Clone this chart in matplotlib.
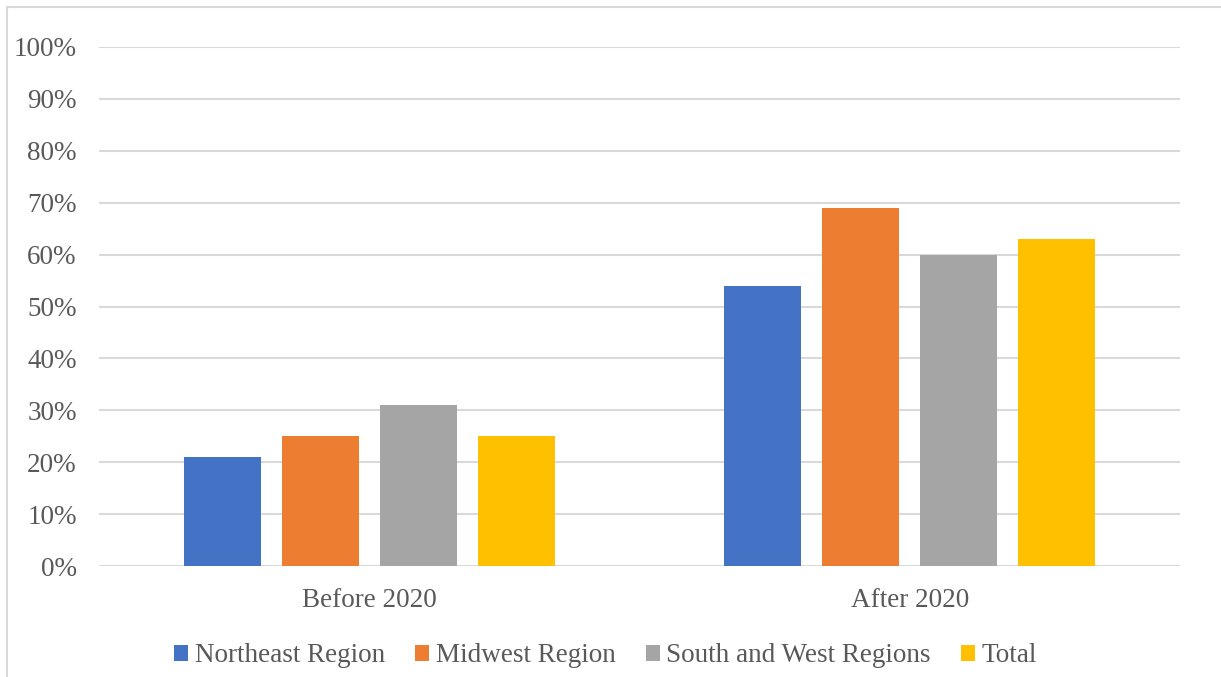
import matplotlib
matplotlib.use("Agg")
import matplotlib.pyplot as plt
from matplotlib.lines import Line2D
import numpy as np

categories = ["Before 2020", "After 2020"]
series = ["Northeast Region", "Midwest Region", "South and West Regions", "Total"]
northeast = [21, 54]
midwest = [25, 69]
south_west = [31, 60]
total = [25, 63]
colors = ["#4472C4", "#ED7D31", "#A5A5A5", "#FFC000"]
yticks = [0, 10, 20, 30, 40, 50, 60, 70, 80, 90, 100]

plt.rcParams['font.family'] = ['Liberation Serif', 'DejaVu Serif']
txt = "#595959"
fs = 19.5

fig = plt.figure(figsize=(12.21, 6.77), dpi=100)
ax = fig.add_axes([99/1221, 1-566/677, (1180-99)/1221, (566-47)/677])

x = np.arange(len(categories))
step = 98/540
width = 77/540
data = [northeast, midwest, south_west, total]
for i, (vals, c, name) in enumerate(zip(data, colors, series)):
    ax.bar(x + (i-1.5)*step, vals, width=width, color=c, label=name, zorder=3)

ax.set_xlim(-0.5, 1.5)
ax.set_ylim(0, 100)
ax.set_yticks(yticks)
ax.set_yticklabels([f"{t}%" for t in yticks])
ax.set_xticks(x)
ax.set_xticklabels(categories)
ax.grid(axis='y', color='#D9D9D9', linewidth=1.5, zorder=0)
for s in ax.spines.values():
    s.set_visible(False)
ax.tick_params(axis='both', length=0, labelsize=fs, colors=txt)
ax.tick_params(axis='y', pad=16)
ax.tick_params(axis='x', pad=16)

leg = fig.legend(loc='center', bbox_to_anchor=(0.496, 1-656/677), ncol=4, frameon=False,
                 fontsize=fs, handlelength=0.52, handleheight=0.52, handletextpad=0.25,
                 columnspacing=1.1, labelcolor=txt)

# chart border (left and top visible)
fig.add_artist(Line2D([7/1221, 7/1221], [0, 1-7/677], color='#D9D9D9', lw=1.5, transform=fig.transFigure))
fig.add_artist(Line2D([7/1221, 1], [1-7/677, 1-7/677], color='#D9D9D9', lw=1.5, transform=fig.transFigure))

fig.savefig("out.png", dpi=100)
